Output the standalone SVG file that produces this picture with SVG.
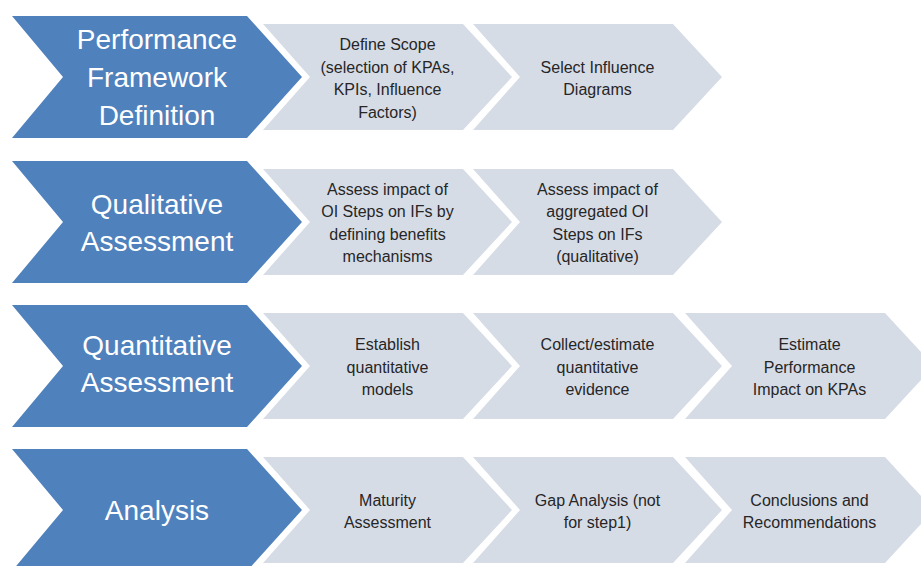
<svg xmlns="http://www.w3.org/2000/svg" width="921" height="566" viewBox="0 0 921 566">
<style>
.dark{fill:#4f81bd}
.light{fill:#d6dce6}
.dt{font-family:"Liberation Sans",Arial,sans-serif;font-size:28px;fill:#ffffff;text-anchor:middle}
.lt{font-family:"Liberation Sans",Arial,sans-serif;font-size:16px;fill:#262626;text-anchor:middle}
</style>
<rect width="921" height="566" fill="#ffffff"/>
<g id="row1">
  <g id="perf-framework">
    <path class="dark" d="M12,16 H247 L302,77 L247,138 H12 L63,77 Z"/>
    <text class="dt" x="157" y="49">Performance</text>
    <text class="dt" x="157" y="87">Framework</text>
    <text class="dt" x="157" y="125">Definition</text>
  </g>
  <g id="define-scope">
    <path class="light" d="M263,24 H463 L512,77 L463,130 H263 L310,77 Z"/>
    <text class="lt" x="387.5" y="50">Define Scope</text>
    <text class="lt" x="387.5" y="72.5">(selection of KPAs,</text>
    <text class="lt" x="387.5" y="95">KPIs, Influence</text>
    <text class="lt" x="387.5" y="117.5">Factors)</text>
  </g>
  <g id="select-influence">
    <path class="light" d="M473,24 H673 L722,77 L673,130 H473 L520,77 Z"/>
    <text class="lt" x="597.5" y="72.5">Select Influence</text>
    <text class="lt" x="597.5" y="95">Diagrams</text>
  </g>
</g>
<g id="row2">
  <g id="qualitative">
    <path class="dark" d="M12,161 H247 L302,222 L247,283 H12 L63,222 Z"/>
    <text class="dt" x="157" y="214">Qualitative</text>
    <text class="dt" x="157" y="251">Assessment</text>
  </g>
  <g id="assess-impact">
    <path class="light" d="M263,169 H463 L512,222 L463,275 H263 L310,222 Z"/>
    <text class="lt" x="387.5" y="194.5">Assess impact of</text>
    <text class="lt" x="387.5" y="217">OI Steps on IFs by</text>
    <text class="lt" x="387.5" y="239.5">defining benefits</text>
    <text class="lt" x="387.5" y="262">mechanisms</text>
  </g>
  <g id="assess-aggregated">
    <path class="light" d="M473,169 H673 L722,222 L673,275 H473 L520,222 Z"/>
    <text class="lt" x="597.5" y="194.5">Assess impact of</text>
    <text class="lt" x="597.5" y="217">aggregated OI</text>
    <text class="lt" x="597.5" y="239.5">Steps on IFs</text>
    <text class="lt" x="597.5" y="262">(qualitative)</text>
  </g>
</g>
<g id="row3">
  <g id="quantitative">
    <path class="dark" d="M12,305 H247 L302,366 L247,427 H12 L63,366 Z"/>
    <text class="dt" x="157" y="355">Quantitative</text>
    <text class="dt" x="157" y="392">Assessment</text>
  </g>
  <g id="establish-models">
    <path class="light" d="M263,313 H463 L512,366 L463,419 H263 L310,366 Z"/>
    <text class="lt" x="387.5" y="350">Establish</text>
    <text class="lt" x="387.5" y="372.5">quantitative</text>
    <text class="lt" x="387.5" y="395">models</text>
  </g>
  <g id="collect-evidence">
    <path class="light" d="M473,313 H673 L722,366 L673,419 H473 L520,366 Z"/>
    <text class="lt" x="597.5" y="350">Collect/estimate</text>
    <text class="lt" x="597.5" y="372.5">quantitative</text>
    <text class="lt" x="597.5" y="395">evidence</text>
  </g>
  <g id="estimate-performance">
    <path class="light" d="M685,313 H885 L934,366 L885,419 H685 L732,366 Z"/>
    <text class="lt" x="809.5" y="350">Estimate</text>
    <text class="lt" x="809.5" y="372.5">Performance</text>
    <text class="lt" x="809.5" y="395">Impact on KPAs</text>
  </g>
</g>
<g id="row4">
  <g id="analysis">
    <path class="dark" d="M12,449 H247 L302,510 L247,571 H12 L63,510 Z"/>
    <text class="dt" x="157" y="520">Analysis</text>
  </g>
  <g id="maturity">
    <path class="light" d="M263,457 H463 L512,510 L463,563 H263 L310,510 Z"/>
    <text class="lt" x="387.5" y="505.5">Maturity</text>
    <text class="lt" x="387.5" y="528">Assessment</text>
  </g>
  <g id="gap-analysis">
    <path class="light" d="M473,457 H673 L722,510 L673,563 H473 L520,510 Z"/>
    <text class="lt" x="597.5" y="505.5">Gap Analysis (not</text>
    <text class="lt" x="597.5" y="528">for step1)</text>
  </g>
  <g id="conclusions">
    <path class="light" d="M685,457 H885 L934,510 L885,563 H685 L732,510 Z"/>
    <text class="lt" x="809.5" y="505.5">Conclusions and</text>
    <text class="lt" x="809.5" y="528">Recommendations</text>
  </g>
</g>
<g id="connectors"/>
</svg>
